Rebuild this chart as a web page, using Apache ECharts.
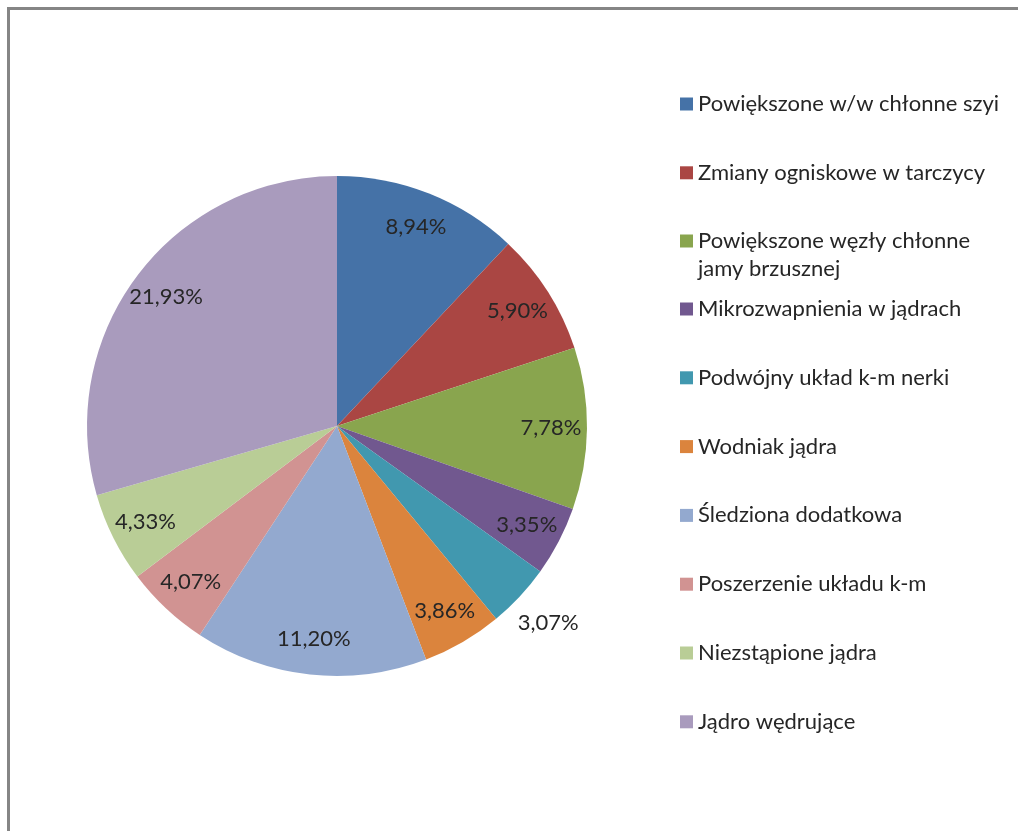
<!DOCTYPE html>
<html>
<head>
<meta charset="utf-8">
<script src="https://cdn.jsdelivr.net/npm/echarts@6/dist/echarts.min.js"></script>
<style>
  html, body { margin: 0; padding: 0; background: #fff; overflow: hidden; }
  #frame { position: absolute; left: 7px; top: 7px; width: 1100px; height: 900px; border-left: 3px solid #858585; border-top: 3px solid #858585; }
  #main { position: absolute; left: 0; top: 0; width: 1018px; height: 831px; }
</style>
</head>
<body>
<div id="frame"></div>
<div id="main"></div>
<script>
// categories + values (values shown as percent labels, comma decimals)
const categories = [
  'Powiększone w/w chłonne szyi',
  'Zmiany ogniskowe w tarczycy',
  'Powiększone węzły chłonne\njamy brzusznej',
  'Mikrozwapnienia w jądrach',
  'Podwójny układ k-m nerki',
  'Wodniak jądra',
  'Śledziona dodatkowa',
  'Poszerzenie układu k-m',
  'Niezstąpione jądra',
  'Jądro wędrujące'
];
const values = [8.94, 5.90, 7.78, 3.35, 3.07, 3.86, 11.20, 4.07, 4.33, 21.93];
const colors = ['#4572A7', '#AA4643', '#89A54E', '#71588F', '#4198AF', '#DB843D', '#93A9CF', '#D19392', '#B9CD96', '#A99BBD'];
const outsideLabel = 4; // the 3,07% label sits outside the slice

const FONT = 'Lato';
const LINE_H = 28;
const center = [337, 426];

const fmt = v => v.toFixed(2).replace('.', ',') + '%';
const pieData = categories.map((c, i) => ({ name: c, value: values[i], itemStyle: { color: colors[i] } }));

const labelText = { color: '#262626', fontFamily: FONT, fontSize: 22 };

const legendBase = {
  orient: 'vertical',
  left: 680,
  padding: 0,
  icon: 'rect',
  itemWidth: 13,
  itemHeight: 13,
  itemGap: 40.8,
  selectedMode: false,
  // two-line entry: lead with an empty line so the marker sits on the first line
  formatter: name => name.indexOf('\n') >= 0 ? '\n' + name : name,
  textStyle: { color: '#262626', fontFamily: FONT, fontSize: 22, lineHeight: LINE_H }
};

const option = {
  animation: false,
  color: colors,
  legend: [
    Object.assign({}, legendBase, { top: 90, data: categories.slice(0, 2) }),
    Object.assign({}, legendBase, { top: 199, data: categories.slice(2, 3) }),
    Object.assign({}, legendBase, { top: 295, data: categories.slice(3) })
  ],
  series: [
    {
      type: 'pie',
      center: center,
      radius: [0, 250],
      startAngle: 90,
      silent: true,
      label: { show: false },
      labelLine: { show: false },
      data: pieData
    },
    {
      // label ring (inside labels)
      type: 'pie',
      center: center,
      radius: [174, 248],
      startAngle: 90,
      silent: true,
      legendHoverLink: false,
      itemStyle: { color: 'transparent' },
      label: Object.assign({ show: true, position: 'inside', formatter: p => fmt(p.value) }, labelText),
      labelLine: { show: false },
      data: values.map((v, i) => ({ name: categories[i], value: v, label: { show: i !== outsideLabel } }))
    },
    {
      // outer ring for the small slice label
      type: 'pie',
      center: center,
      radius: [266, 306],
      startAngle: 90,
      silent: true,
      legendHoverLink: false,
      itemStyle: { color: 'transparent' },
      label: Object.assign({ show: false, position: 'inside', formatter: p => fmt(p.value) }, labelText),
      labelLine: { show: false },
      data: values.map((v, i) => ({ name: categories[i], value: v, label: { show: i === outsideLabel } }))
    }
  ]
};

const chart = echarts.init(document.getElementById('main'));
chart.setOption(option);
</script>
</body>
</html>
